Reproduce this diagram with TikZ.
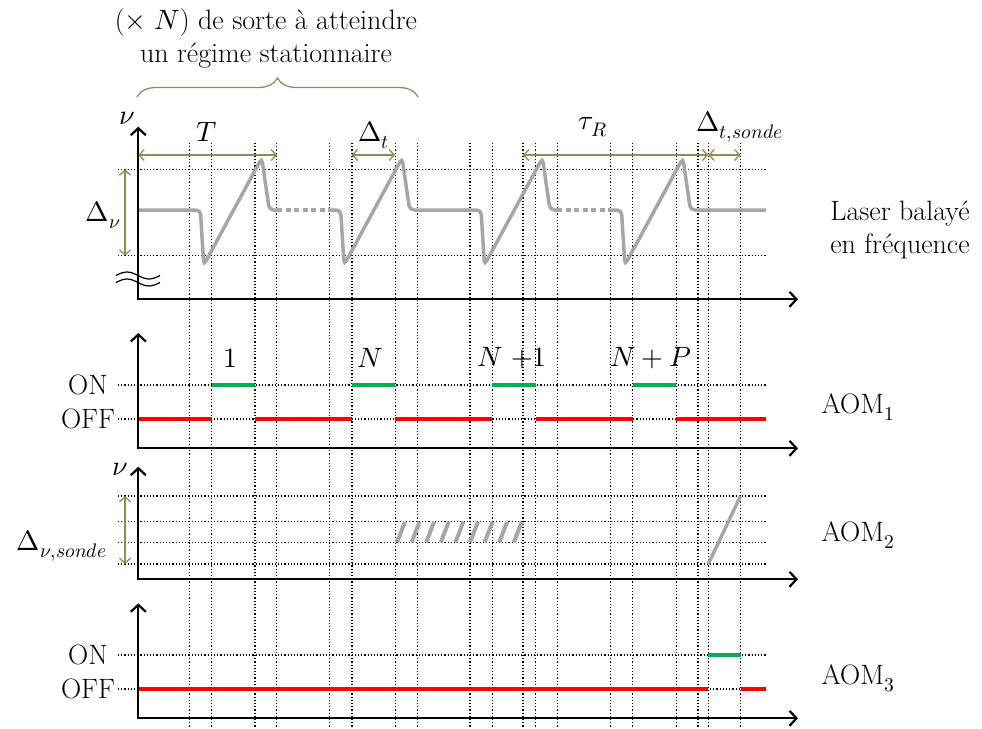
\documentclass[tikz,border=0pt]{standalone}
\usepackage{amsmath}
\usepackage{unicode-math}
\setmathfont{Latin Modern Math}
\usetikzlibrary{arrows.meta,decorations.pathreplacing,calc}
\definecolor{kaki}{HTML}{948A54}
\definecolor{vert}{HTML}{00B050}
\definecolor{gris}{HTML}{A6A6A6}

\begin{document}
\begin{tikzpicture}[x=1pt,y=-1pt,
  font=\fontsize{28}{33}\selectfont,
  guide/.style={dotted,line width=1.2pt},
  axe/.style={line width=2.2pt,{Straight Barb[length=7pt,width=15pt]}-{Straight Barb[length=7pt,width=15pt]}},
  balayage/.style={gris,line width=3.5pt,rounded corners=4.5pt},
  cote/.style={kaki,line width=1.3pt,{Straight Barb[length=5pt,width=11pt]}-{Straight Barb[length=5pt,width=11pt]}},
  onlvl/.style={vert,line width=3.5pt},
  offlvl/.style={red,line width=3.5pt}]

\useasboundingbox (0,0) rectangle (982,728);

% Vertical guides
\foreach \s in {189.3,329.6,470,610.4}
  \foreach \d in {0,22.4,65.7,87.5}
    \draw[guide] (\s+\d,143) -- (\s+\d,728);
\foreach \x in {523,708.3,740.5}
  \draw[guide] (\x,143) -- (\x,728);

% Horizontal guides
\foreach \y in {169.3,255.7,385,419,496,521.7,542.3,564,655,689}
  \draw[guide] (118,\y) -- (766,\y);

% Swept laser
\draw[balayage] (138,210) \foreach \s in {189.3} {-- (\s+11,210) -- (\s+14.5,265) -- (\s+72.5,158) -- (\s+80,210)} -- (277,210);
\draw[balayage,dash pattern=on 5pt off 3.5pt] (277,210) -- (329.6,210);
\draw[balayage] (329.6,210) \foreach \s in {329.6,470} {-- (\s+11,210) -- (\s+14.5,265) -- (\s+72.5,158) -- (\s+80,210)} -- (557,210);
\draw[balayage,dash pattern=on 5pt off 3.5pt] (557,210) -- (610.4,210);
\draw[balayage] (610.4,210) \foreach \s in {610.4} {-- (\s+11,210) -- (\s+14.5,265) -- (\s+72.5,158) -- (\s+80,210)} -- (766,210);

% AOM1 gate
\foreach \s in {189.3,329.6,470,610.4}
  \draw[onlvl] (\s+22.4,385) -- (\s+65.7,385);
\foreach \a/\b in {138/211.7,255/352,395.3/492.4,535.7/632.8,676.1/766}
  \draw[offlvl] (\a,419) -- (\b,419);

% AOM2 probe
\foreach \i in {0,...,8}
  \draw[gris,line width=4pt] (397+14.6*\i,542.3) -- (405+14.6*\i,521.7);
\draw[gris,line width=3.5pt] (708.3,564) -- (740.5,496);

% AOM3 gate
\draw[offlvl] (138,689) -- (708.3,689);
\draw[onlvl] (708.3,655) -- (740.5,655);
\draw[offlvl] (740.5,689) -- (766,689);

% Axes
\foreach \yb/\yt in {299.3/126.7,448.3/333,579.3/466.7,718.3/603.3}
  \draw[axe] (138.3,\yt) -- (138.3,\yb) -- (798,\yb);

% Axis break
\foreach \y in {275.5,282.5}
  \draw[line width=1.2pt] (116,\y) sin (127,\y-3.5) cos (138,\y) sin (149,\y+3.5) cos (160,\y);

% Dimensions
\coordinate (tA) at (138.3,155);
\coordinate (tB) at (277,155);
\coordinate (dA) at (351.7,155);
\coordinate (dB) at (395,155);
\coordinate (rA) at (523,155);
\coordinate (rB) at (708.3,155);
\coordinate (sB) at (740.5,155);
\coordinate (vA) at (125,169.3);
\coordinate (vB) at (125,255.7);
\coordinate (wA) at (125,496);
\coordinate (wB) at (125,564);
\draw[cote] (tA) -- (tB);
\draw[cote] (dA) -- (dB);
\draw[cote] (rA) -- (rB);
\draw[cote] (rB) -- (sB);
\draw[cote] (vA) -- (vB);
\draw[cote] (wA) -- (wB);
\draw[kaki,line width=1.3pt,decorate,decoration={brace,amplitude=19pt}] (137,97) -- (418,97);

% Labels
\node[align=center] (regime) at (266,38) {(${\times}\;N$) de sorte à atteindre\\un régime stationnaire};
\node (T) at (207,132) {$T$};
\node (dt) at (374,135) {$\Delta_t$};
\node (tauR) at (593,127) {$\tau_R$};
\node (dts) at (740,127) {$\Delta_{t,sonde}$};
\node (dnu) at (103,215) {$\Delta_\nu$};
\node (nuA) at (127,118) {$\nu$};
\node (nuB) at (120,469) {$\nu$};
\node (dnus) at (62,546) {$\Delta_{\nu,sonde}$};
\node (c1) at (230,358) {$1$};
\node (cN) at (370,358) {$N$};
\node (cN1) at (512,358) {$N\ {+}1$};
\node (cNP) at (651,358) {$N+P$};
\node (onA) at (88,385) {ON};
\node (offA) at (88,419) {OFF};
\node (onB) at (88,655) {ON};
\node (offB) at (88,689) {OFF};
\node[align=center] (laser) at (900,230) {Laser balayé\\en fréquence};
\node (aomA) at (858,407) {AOM$_1$};
\node (aomB) at (858,535) {AOM$_2$};
\node (aomC) at (858,678) {AOM$_3$};

\end{tikzpicture}
\end{document}
